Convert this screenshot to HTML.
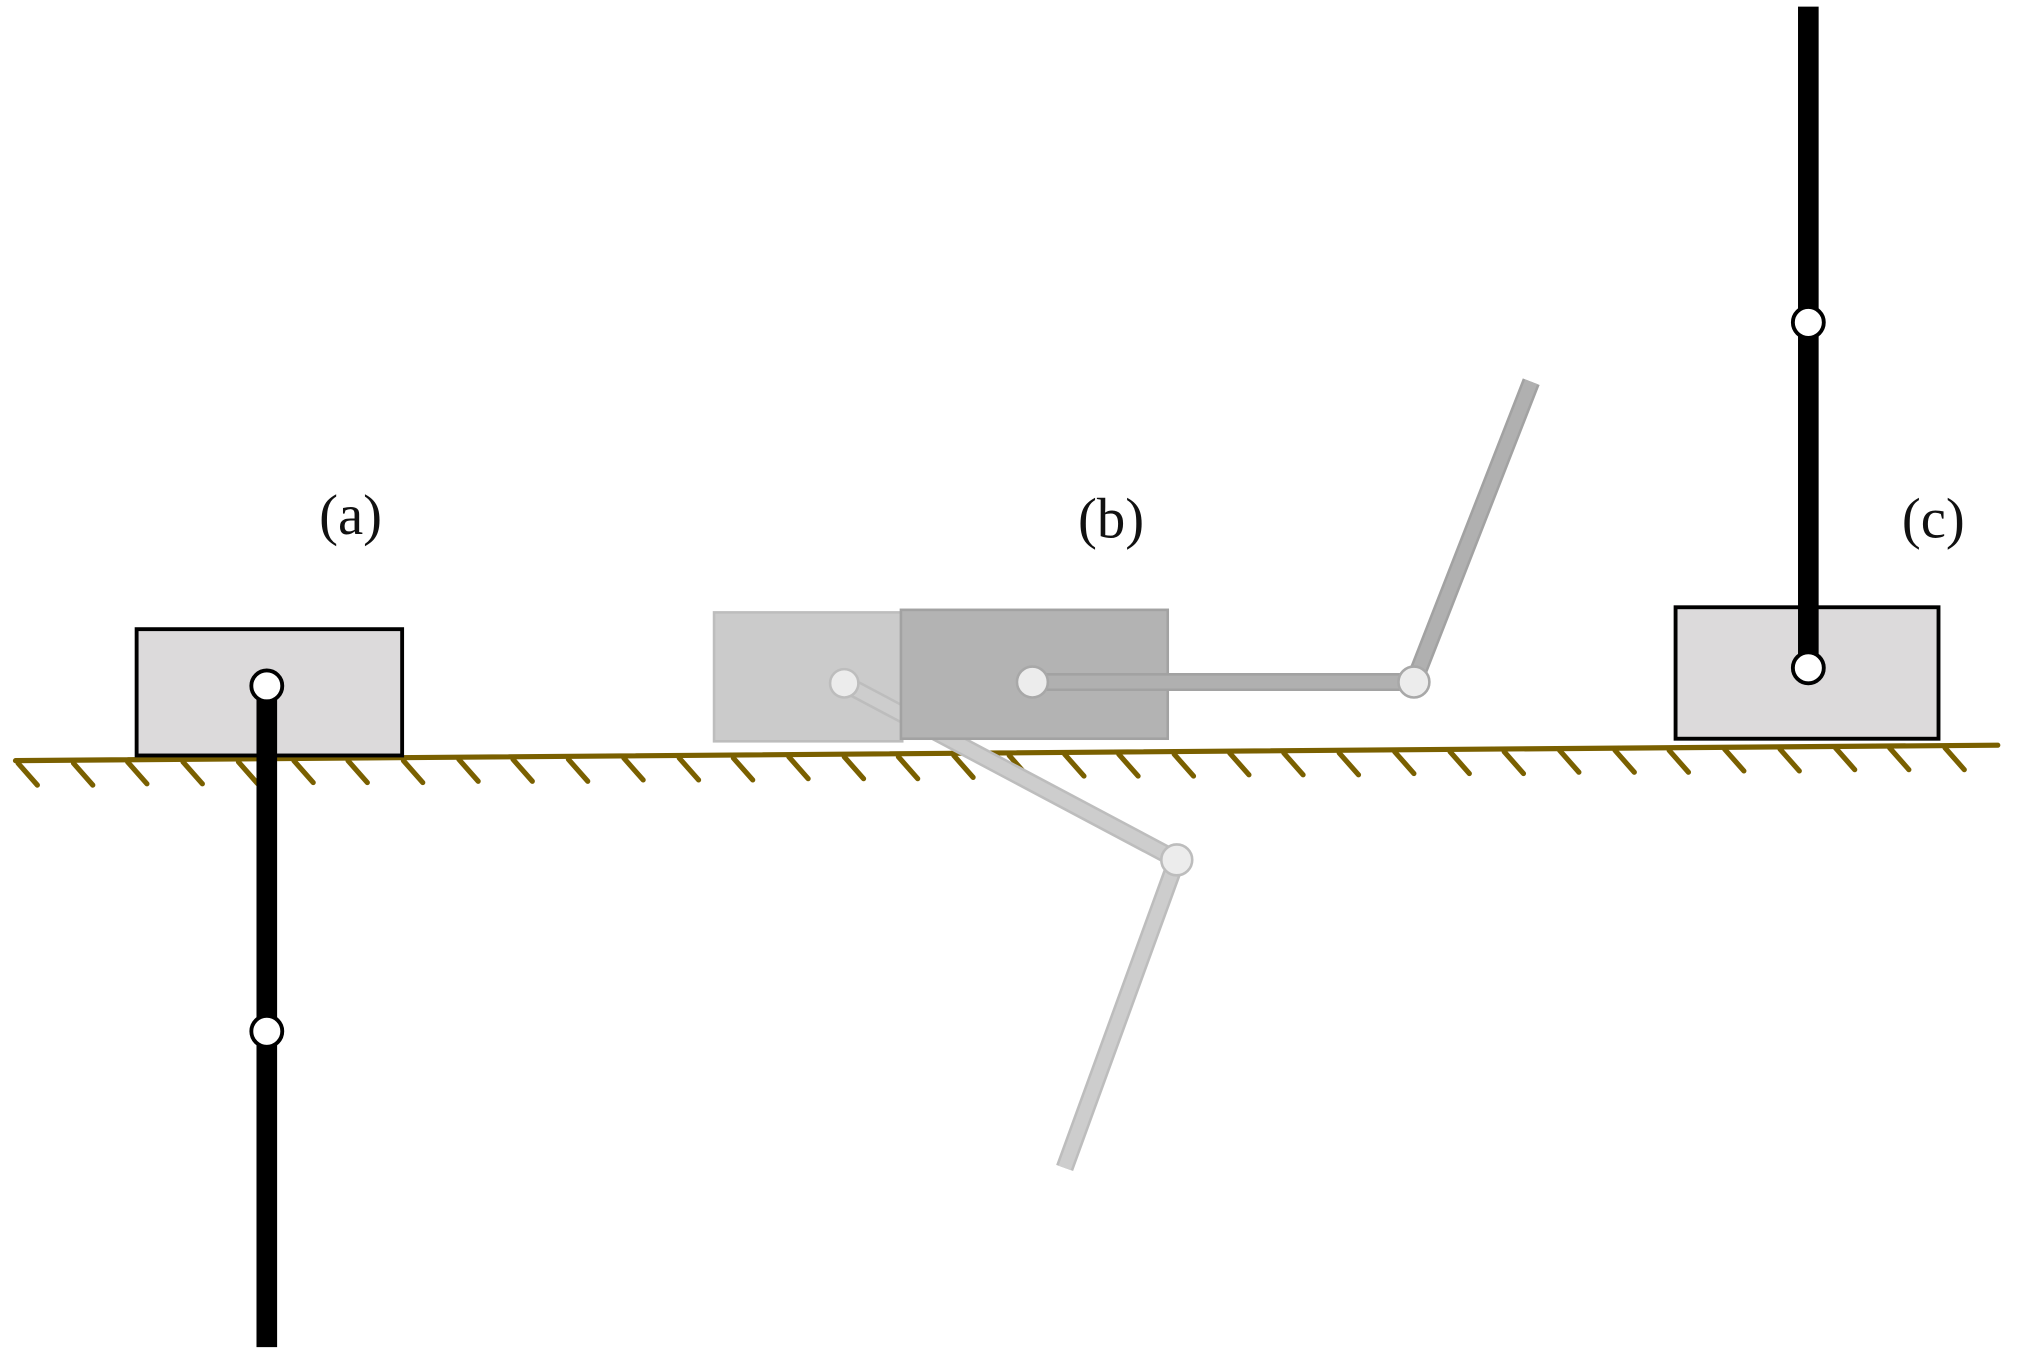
<!DOCTYPE html>
<html><head><style>html,body{margin:0;padding:0;background:#fff}svg{display:block}</style></head>
<body>
<svg width="2021" height="1355" viewBox="0 0 1568 1051" xmlns="http://www.w3.org/2000/svg">
<rect width="1568" height="1051" fill="#fff"/>
<!-- ground -->
<g stroke="#7a6000" stroke-width="4" stroke-linecap="round">
<line x1="12" y1="590" x2="1550" y2="578"/>
<line x1="14" y1="592" x2="29" y2="609"/><line x1="57" y1="592" x2="72" y2="609"/><line x1="99" y1="591" x2="114" y2="608"/><line x1="142" y1="591" x2="157" y2="608"/><line x1="185" y1="591" x2="200" y2="608"/><line x1="228" y1="590" x2="243" y2="607"/><line x1="270" y1="590" x2="285" y2="607"/><line x1="313" y1="590" x2="328" y2="607"/><line x1="356" y1="589" x2="371" y2="606"/><line x1="398" y1="589" x2="413" y2="606"/><line x1="441" y1="589" x2="456" y2="606"/><line x1="484" y1="588" x2="499" y2="605"/><line x1="527" y1="588" x2="542" y2="605"/><line x1="569" y1="588" x2="584" y2="605"/><line x1="612" y1="587" x2="627" y2="604"/><line x1="655" y1="587" x2="670" y2="604"/><line x1="697" y1="587" x2="712" y2="604"/><line x1="740" y1="586" x2="755" y2="603"/><line x1="783" y1="586" x2="798" y2="603"/><line x1="826" y1="585" x2="841" y2="602"/><line x1="868" y1="585" x2="883" y2="602"/><line x1="911" y1="585" x2="926" y2="602"/><line x1="954" y1="584" x2="969" y2="601"/><line x1="996" y1="584" x2="1011" y2="601"/><line x1="1039" y1="584" x2="1054" y2="601"/><line x1="1082" y1="583" x2="1097" y2="600"/><line x1="1125" y1="583" x2="1140" y2="600"/><line x1="1167" y1="583" x2="1182" y2="600"/><line x1="1210" y1="582" x2="1225" y2="599"/><line x1="1253" y1="582" x2="1268" y2="599"/><line x1="1295" y1="582" x2="1310" y2="599"/><line x1="1338" y1="581" x2="1353" y2="598"/><line x1="1381" y1="581" x2="1396" y2="598"/><line x1="1424" y1="580" x2="1439" y2="597"/><line x1="1466" y1="580" x2="1481" y2="597"/><line x1="1509" y1="580" x2="1524" y2="597"/>
</g>
<!-- light (b) -->
<rect x="554" y="475" width="146" height="100" fill="#cbcbcb" stroke="#bdbdbd" stroke-width="2"/>
<polyline points="655,530 913,667 826,906" fill="none" stroke="#bdbdbd" stroke-width="14"/>
<polyline points="655,530 913,667 826,906" fill="none" stroke="#cdcdcd" stroke-width="10"/>
<circle cx="655" cy="530" r="11" fill="#ececec" stroke="#bdbdbd" stroke-width="2"/>
<circle cx="913" cy="667" r="12" fill="#ececec" stroke="#bdbdbd" stroke-width="2"/>
<!-- dark (b) -->
<rect x="699" y="473" width="207" height="100" fill="#b3b3b3" stroke="#a2a2a2" stroke-width="2"/>
<polyline points="801,529 1097,529 1188,296" fill="none" stroke="#a2a2a2" stroke-width="14"/>
<polyline points="801,529 1097,529 1188,296" fill="none" stroke="#b0b0b0" stroke-width="10"/>
<circle cx="801" cy="529" r="12" fill="#ececec" stroke="#a8a8a8" stroke-width="2"/>
<circle cx="1097" cy="529" r="12" fill="#ececec" stroke="#a8a8a8" stroke-width="2"/>
<!-- (a) -->
<rect x="106" y="488" width="206" height="98" fill="#dcdadb" stroke="#000" stroke-width="3"/>
<line x1="207" y1="532" x2="207" y2="1045" stroke="#000" stroke-width="16"/>
<circle cx="207" cy="532" r="12" fill="#fff" stroke="#000" stroke-width="3"/>
<circle cx="207" cy="800" r="12" fill="#fff" stroke="#000" stroke-width="3"/>
<!-- (c) -->
<rect x="1300" y="471" width="204" height="102" fill="#dcdadb" stroke="#000" stroke-width="3"/>
<line x1="1403" y1="5" x2="1403" y2="518" stroke="#000" stroke-width="16"/>
<circle cx="1403" cy="250" r="12" fill="#fff" stroke="#000" stroke-width="3"/>
<circle cx="1403" cy="518" r="12" fill="#fff" stroke="#000" stroke-width="3"/>
<!-- labels -->
<g font-family="Liberation Serif, serif" font-size="44" fill="#111" text-anchor="middle">
<text x="272" y="414">(a)</text>
<text x="862" y="417">(b)</text>
<text x="1500" y="417">(c)</text>
</g>
</svg>
</body></html>
